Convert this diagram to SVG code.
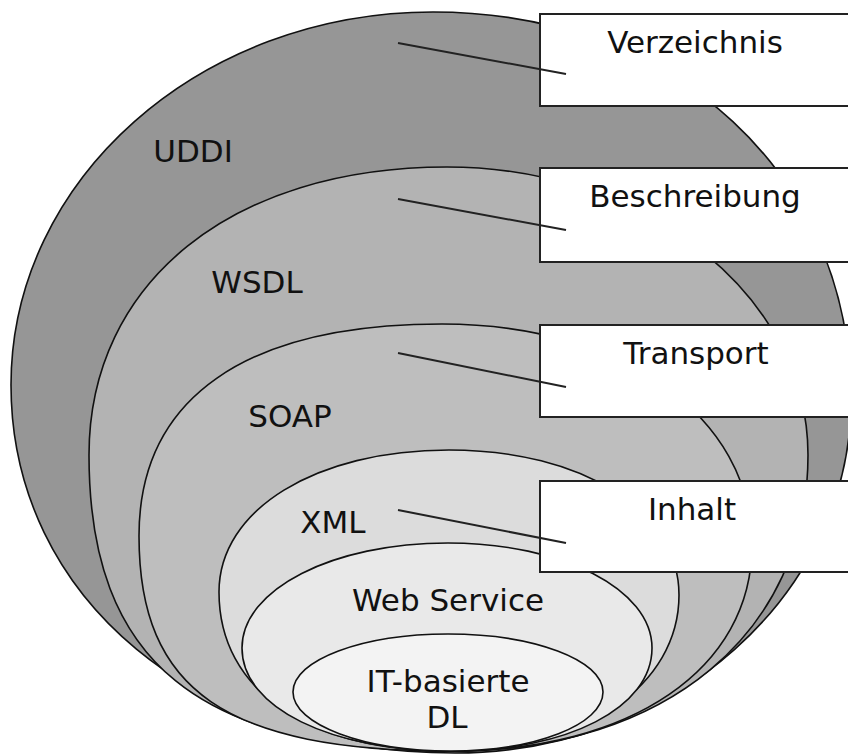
<svg xmlns="http://www.w3.org/2000/svg" width="848" height="756" viewBox="0 0 848 756">
<style>
.layer{stroke:#111;stroke-width:1.6}
.box{fill:#fff;stroke:#222;stroke-width:2}
.lbl{font-family:"DejaVu Sans","Liberation Sans",sans-serif;font-size:31px;fill:#111}
.mid{text-anchor:middle}
.lead{stroke:#222;stroke-width:2;fill:none}
</style>
<rect width="848" height="756" fill="#fff"/>
<g id="uddi">
<path class="layer" fill="#969696" d="M11,385 C11,179.1 200.1,12 433,12 C675.4,12 851,175 851,400 C851,594.2 672.8,753 455,753 C197.5,753 11,598.4 11,385 Z"/>
<text class="lbl mid" x="193" y="162">UDDI</text>
</g>
<g id="wsdl">
<path class="layer" fill="#b3b3b3" d="M89,455 C89,282.2 232.2,167 447,167 C646.3,167 808,296 808,455 C808,632.6 666,751 453,751 C198.2,751 89,662.2 89,455 Z"/>
<text class="lbl mid" x="257" y="293">WSDL</text>
</g>
<g id="soap">
<path class="layer" fill="#bebebe" d="M139,536 C139,398.2 245,324 442,324 C621.8,324 752,416.8 752,545 C752,668.6 631.6,751 451,751 C226.4,751 139,690.8 139,536 Z"/>
<text class="lbl mid" x="290" y="427">SOAP</text>
</g>
<g id="xml">
<path class="layer" fill="#dcdcdc" d="M219,592 C219,509.6 315.6,450 449,450 C582.4,450 679,510.9 679,595 C679,685.5 583.7,751 452,751 C307.5,751 219,690.6 219,592 Z"/>
<text class="lbl mid" x="333" y="533">XML</text>
</g>
<g id="webservice">
<path class="layer" fill="#e9e9e9" d="M242,648 C242,589.2 332.6,543 448,543 C562.2,543 652,589.2 652,648 C652,707.7 568,751 452,751 C330.2,751 242,707.7 242,648 Z"/>
<text class="lbl mid" x="448" y="611">Web Service</text>
</g>
<g id="itdl">
<path class="layer" fill="#f3f3f3" d="M293,692 C293,660 362.4,634 448,634 C533.6,634 603,660 603,692 C603,724.6 534.9,751 451,751 C363.8,751 293,724.6 293,692 Z"/>
<text class="lbl mid" x="448" y="692">IT-basierte</text>
<text class="lbl mid" x="447" y="728">DL</text>
</g>
<g id="box-verzeichnis">
<rect class="box" x="540" y="14" width="320" height="92"/>
<text class="lbl mid" x="695" y="53">Verzeichnis</text>
</g>
<g id="box-beschreibung">
<rect class="box" x="540" y="168" width="320" height="94"/>
<text class="lbl mid" x="695" y="207">Beschreibung</text>
</g>
<g id="box-transport">
<rect class="box" x="540" y="325" width="320" height="92"/>
<text class="lbl mid" x="696" y="364">Transport</text>
</g>
<g id="box-inhalt">
<rect class="box" x="540" y="481" width="320" height="91"/>
<text class="lbl mid" x="692" y="520">Inhalt</text>
</g>
<g id="connectors">
<line class="lead" x1="398" y1="43" x2="566" y2="74"/>
<line class="lead" x1="398" y1="199" x2="566" y2="230"/>
<line class="lead" x1="398" y1="353" x2="566" y2="387"/>
<line class="lead" x1="398" y1="510" x2="566" y2="543"/>
</g>
</svg>
